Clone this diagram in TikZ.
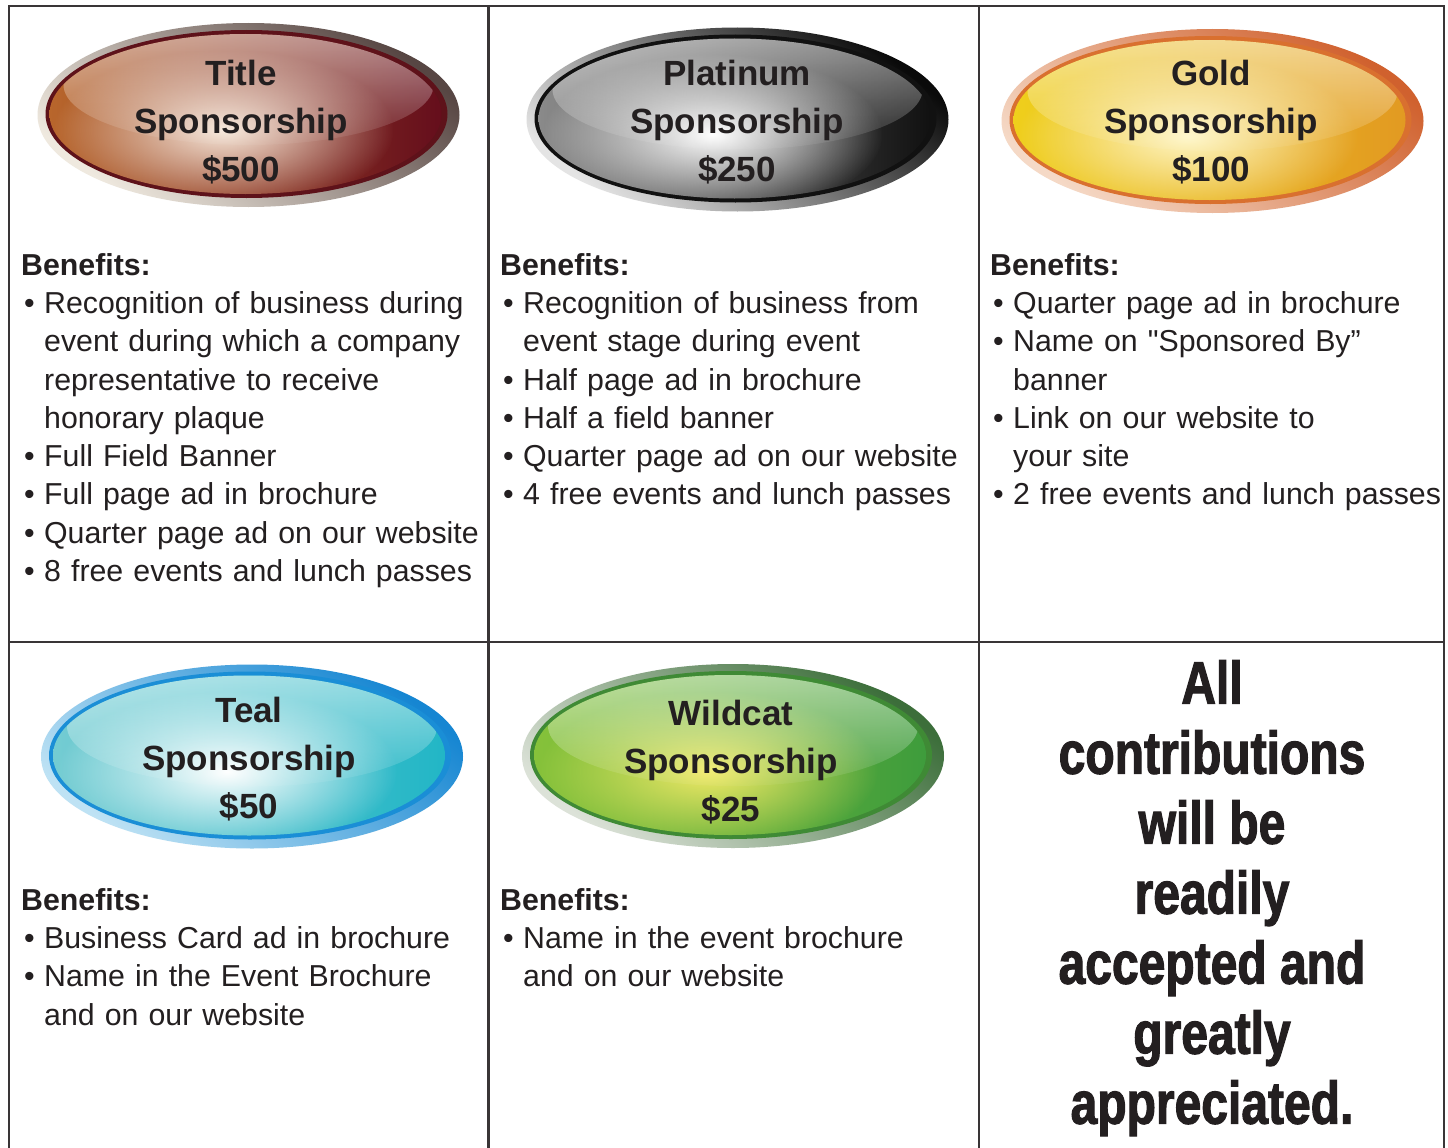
\documentclass[tikz,border=0pt]{standalone}
\usepackage{fontspec}
\setmainfont{Liberation Sans}
\newfontfamily\plainfont{Liberation Sans}
\newfontfamily\heavyfont{Liberation Sans Bold}[FakeStretch=0.8,FakeBold=1.8]
\usetikzlibrary{fadings}
\tikzfading[name=softspot, inner color=transparent!0, outer color=transparent!100]
\tikzfading[name=glossfade, top color=transparent!45, bottom color=transparent!95]
\definecolor{ink}{HTML}{231F20}
% title
\definecolor{tRL}{HTML}{EFE9DF}\definecolor{tRD}{HTML}{574643}\definecolor{tRim}{HTML}{5E121A}
\definecolor{tIL}{HTML}{B8662C}\definecolor{tIR}{HTML}{650E1C}\definecolor{tH}{HTML}{F7E8DA}
% platinum
\definecolor{pRL}{HTML}{E4E4E4}\definecolor{pRD}{HTML}{0A0A0A}\definecolor{pRim}{HTML}{111111}
\definecolor{pIL}{HTML}{8A8A8A}\definecolor{pIR}{HTML}{111111}\definecolor{pH}{HTML}{FFFFFF}
% gold
\definecolor{gRL}{HTML}{F5D9C6}\definecolor{gRD}{HTML}{D0612E}\definecolor{gRim}{HTML}{D9702F}
\definecolor{gIL}{HTML}{EFCF1C}\definecolor{gIR}{HTML}{E29A22}\definecolor{gH}{HTML}{FFF7C8}
% teal
\definecolor{cRL}{HTML}{BEE2F4}\definecolor{cRD}{HTML}{1686D2}\definecolor{cRim}{HTML}{1A8ED6}
\definecolor{cIL}{HTML}{74CCD2}\definecolor{cIR}{HTML}{22B6C6}\definecolor{cH}{HTML}{FFFFFF}
% wildcat
\definecolor{wRL}{HTML}{DCE2D8}\definecolor{wRD}{HTML}{3C6E3A}\definecolor{wRim}{HTML}{3F8A35}
\definecolor{wIL}{HTML}{86C23A}\definecolor{wIR}{HTML}{3E9C3C}\definecolor{wH}{HTML}{F2EA66}
\newcommand{\badgeshape}[7]{%
 \begin{scope}[shift={(#1)}]
  \shade[top color=#3, bottom color=#2, shading angle=-40] (0,0) ellipse (211 and 92);
  \fill[#4] (-2,1) ellipse (201 and 84);
  \begin{scope}
   \clip (-3,1) ellipse (196 and 80);
   \shade[left color=#5, right color=#6] (-3,1) ellipse (196 and 80);
   \fill[#7, path fading=softspot, fit fading=true] (-25,-15) ellipse (170 and 80);
   \fill[white, path fading=glossfade, fit fading=true] (0,30) ellipse (185 and 60);
  \end{scope}
 \end{scope}}
\newcommand{\itm}[1]{\par\hangindent=23pt\hangafter=1\noindent\makebox[23pt][l]{\hspace{3pt}\textbullet}#1}
\begin{document}
\begin{tikzpicture}[x=1pt,y=1pt,
  gridline/.style={line width=2.6pt, draw=ink!90},
  badgetext/.style={anchor=north, align=center, inner sep=0pt, text=ink, font=\fontsize{35}{48}\selectfont\bfseries},
  benefit/.style={anchor=north west, inner sep=0pt, text width=480pt, align=left, text=ink, font=\fontsize{30.3}{38.3}\selectfont},
  bigtext/.style={anchor=north, align=center, inner sep=0pt, text=ink, font=\fontsize{60}{70}\heavyfont}]
\useasboundingbox (0,0) rectangle (1448,-1148);
\fill[white] (0,0) rectangle (1448,-1148);

% badges
\badgeshape{248.5,-115}{tRL}{tRD}{tRim}{tIL}{tIR}{tH}
\badgeshape{737.5,-119.5}{pRL}{pRD}{pRim}{pIL}{pIR}{pH}
\badgeshape{1212.5,-121}{gRL}{gRD}{gRim}{gIL}{gIR}{gH}
\badgeshape{252,-756.5}{cRL}{cRD}{cRim}{cIL}{cIR}{cH}
\badgeshape{733,-756}{wRL}{wRD}{wRim}{wIL}{wIR}{wH}

\node[badgetext] (title) at (241,-60) {Title\\Sponsorship\\\$500};
\node[badgetext] (plat) at (737,-60) {Platinum\\Sponsorship\\\$250};
\node[badgetext] (gold) at (1211,-60) {Gold\\Sponsorship\\\$100};
\node[badgetext] (teal) at (249,-697) {Teal\\Sponsorship\\\$50};
\node[badgetext] (wild) at (731,-700) {Wildcat\\Sponsorship\\\$25};

\node[benefit] (b1) at (21,-253) {\textbf{Benefits:}
\itm{Recognition of business during\newline event during which a company\newline representative to receive\newline honorary plaque}
\itm{Full Field Banner}
\itm{Full page ad in brochure}
\itm{Quarter page ad on our website}
\itm{8 free events and lunch passes}\par};

\node[benefit] (b2) at (500,-253) {\textbf{Benefits:}
\itm{Recognition of business from\newline event stage during event}
\itm{Half page ad in brochure}
\itm{Half a field banner}
\itm{Quarter page ad on our website}
\itm{4 free events and lunch passes}\par};

\node[benefit] (b3) at (990,-253) {\textbf{Benefits:}
\itm{Quarter page ad in brochure}
\itm{Name on {\plainfont"}Sponsored By”\newline banner}
\itm{Link on our website to\newline your site}
\itm{2 free events and lunch passes}\par};

\node[benefit] (b4) at (21,-888) {\textbf{Benefits:}
\itm{Business Card ad in brochure}
\itm{Name in the Event Brochure\newline and on our website}\par};

\node[benefit] (b5) at (500,-888) {\textbf{Benefits:}
\itm{Name in the event brochure\newline and on our website}\par};

\node[bigtext] (all) at (1212,-660) {All\\contributions\\will be\\readily\\accepted and\\greatly\\appreciated.};

% grid
\draw[gridline] (9,-1148) -- (9,-6) -- (1444,-6) -- (1444,-1148);
\draw[gridline] (488.5,-6) -- (488.5,-1148);
\draw[gridline] (979,-6) -- (979,-1148);
\draw[gridline] (9,-642) -- (1444,-642);
\end{tikzpicture}
\end{document}
